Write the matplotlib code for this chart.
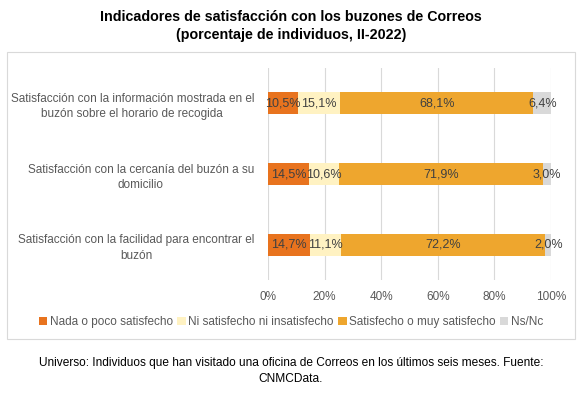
import matplotlib.pyplot as plt
from matplotlib.patches import Rectangle

plt.rcParams['font.family'] = ['Liberation Sans', 'DejaVu Sans']

categories = [
    "Satisfacción con la información mostrada en el\nbuzón sobre el horario de recogida",
    "Satisfacción con la cercanía del buzón a su\ndomicilio",
    "Satisfacción con la facilidad para encontrar el\nbuzón",
]
series = [
    "Nada o poco satisfecho",
    "Ni satisfecho ni insatisfecho",
    "Satisfecho o muy satisfecho",
    "Ns/Nc",
]
nada = [10.5, 14.5, 14.7]
ni = [15.1, 10.6, 11.1]
satisfecho = [68.1, 71.9, 72.2]
nsnc = [6.4, 3.0, 2.0]
colors = ["#E8731E", "#FFF2C2", "#EEA62E", "#D9D9D9"]
ticks = [0, 20, 40, 60, 80, 100]

fig = plt.figure(figsize=(5.82, 3.96), dpi=100)
ax = fig.add_axes([268 / 582, 1 - 280 / 396, 283 / 582, 212 / 396])

# frame around the chart area
fig.patches.append(Rectangle((7 / 582, 1 - 339 / 396), 568 / 582, 287 / 396,
                             transform=fig.transFigure, fill=False,
                             edgecolor="#D9D9D9", linewidth=0.8))

y = list(range(len(categories)))
left = [0.0] * len(categories)
for vals, name, col in zip([nada, ni, satisfecho, nsnc], series, colors):
    bars = ax.barh(y, vals, left=left, height=0.31, color=col, label=name, zorder=2)
    for b, v in zip(bars, vals):
        ax.text(b.get_x() + b.get_width() / 2, b.get_y() + b.get_height() / 2,
                f"{v:.1f}%".replace(".", ","), ha="center", va="center",
                fontsize=9, color="#404040", zorder=3)
    left = [l + v for l, v in zip(left, vals)]

ax.set_xlim(0, 100)
ax.set_ylim(2.5, -0.5)
ax.set_xticks(ticks)
ax.set_xticklabels([f"{t}%" for t in ticks])
ax.set_yticks(y)
ax.set_yticklabels(categories, multialignment="center", linespacing=1.4)
ax.tick_params(axis="both", length=0, labelsize=8.5, labelcolor="#595959")
ax.tick_params(axis="x", pad=8)
ax.tick_params(axis="y", pad=10)
ax.xaxis.grid(True, color="#D9D9D9", linewidth=0.8, zorder=0)
ax.set_axisbelow(True)
for s in ax.spines.values():
    s.set_visible(False)

handles, labels = ax.get_legend_handles_labels()
fig.legend(handles, labels, loc="center", bbox_to_anchor=(0.5, 1 - 322 / 396),
           ncol=4, frameon=False, fontsize=8.5, handlelength=0.7, handleheight=0.7,
           handletextpad=0.2, columnspacing=0.4, labelcolor="#595959")

fig.text(0.5, 1 - 26 / 396,
         "Indicadores de satisfacción con los buzones de Correos\n(porcentaje de individuos, II-2022)",
         ha="center", va="center", fontsize=10.3, fontweight="bold", linespacing=1.3)
fig.text(0.5, 1 - 371 / 396,
         "Universo: Individuos que han visitado una oficina de Correos en los últimos seis meses. Fuente:\nCNMCData.",
         ha="center", va="center", fontsize=8.6, linespacing=1.35)

fig.savefig("out.png", dpi=100)
